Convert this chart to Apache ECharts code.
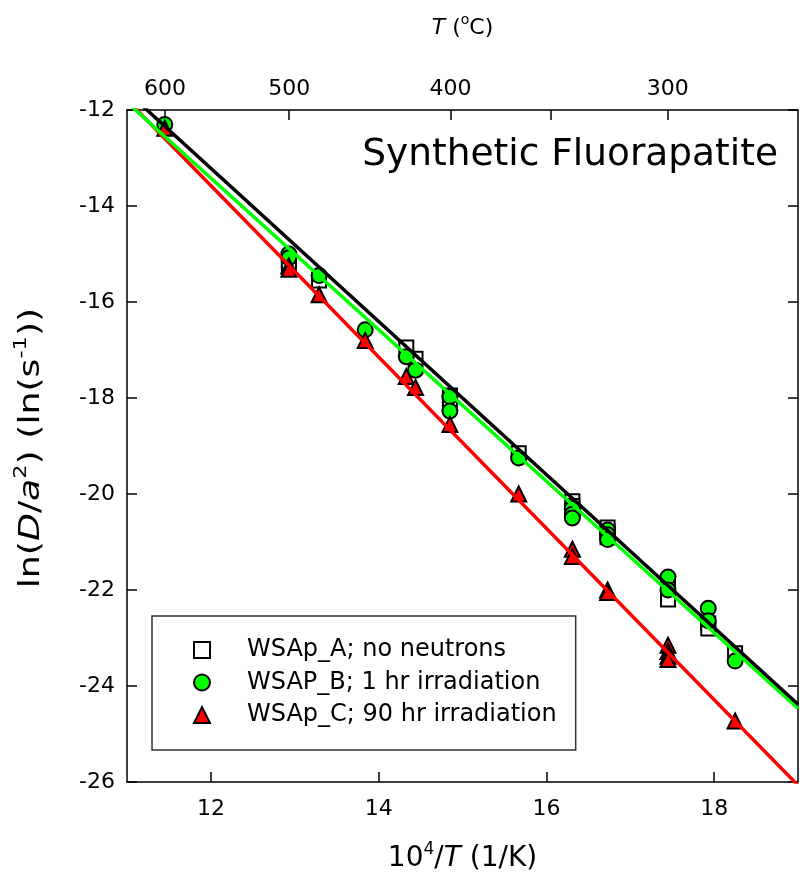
<!DOCTYPE html>
<html>
<head>
<meta charset="utf-8">
<script src="https://cdn.jsdelivr.net/npm/echarts@6/dist/echarts.min.js"></script>
<style>
  html, body { margin: 0; padding: 0; background: #fff; }
  #chart { width: 800px; height: 892px; }
</style>
</head>
<body>
<div id="chart"></div>
<script>
const FONT = 'DejaVu Sans';

// x = 10^4/T (1/K), y = ln(D/a^2)
const xA = [12.93, 12.93, 13.29, 14.33, 14.44, 14.85, 14.85, 15.67, 16.31, 16.31, 16.31, 16.73, 16.73, 16.73, 17.45, 17.45, 17.93, 17.93, 18.25];
const yA = [-15.12, -15.25, -15.55, -16.95, -17.18, -17.95, -18.05, -19.15, -20.15, -20.25, -20.35, -20.7, -20.8, -20.9, -21.95, -22.2, -22.7, -22.8, -23.32];

const xB = [11.45, 12.93, 12.93, 13.29, 13.84, 14.33, 14.44, 14.85, 14.85, 15.67, 16.31, 16.31, 16.31, 16.73, 16.73, 16.73, 17.45, 17.45, 17.93, 17.93, 18.25];
const yB = [-12.3, -15.0, -15.08, -15.45, -16.58, -17.14, -17.42, -17.97, -18.27, -19.25, -20.3, -20.42, -20.5, -20.75, -20.85, -20.95, -21.73, -22.0, -22.38, -22.64, -23.48];

const xC = [11.45, 12.93, 12.93, 13.29, 13.84, 14.33, 14.44, 14.85, 15.67, 16.31, 16.31, 16.73, 16.73, 17.45, 17.45, 17.45, 17.45, 18.25];
const yC = [-12.38, -15.25, -15.32, -15.85, -16.8, -17.55, -17.78, -18.55, -20.0, -21.15, -21.3, -22.0, -22.05, -23.15, -23.28, -23.38, -23.45, -24.73];

// fit lines, end values read at the plot edges
const fitX = [11, 19];
const fitA = [-11.62, -24.38];
const fitB = [-11.84, -24.47];
const fitC = [-11.79, -26.07];

const names = ['WSAp_A; no neutrons', 'WSAP_B; 1 hr irradiation', 'WSAp_C; 90 hr irradiation'];

const bottomTicks = [12, 14, 16, 18];
const topTempTicks = [600, 500, 400, 350, 300];
const topTempLabels = [600, 500, 400, 300];

const invT = (t) => 1e4 / (t + 273.15);
const pairs = (xs, ys) => xs.map((x, i) => [x, ys[i]]);

const axisLine = { show: true, onZero: false, lineStyle: { color: '#000', width: 1.5 } };
const tick = { show: true, inside: true, length: 10, lineStyle: { color: '#000', width: 1.5 } };
const labelFont = { color: '#000', fontFamily: FONT, fontSize: 22 };

const rich = (size) => ({
  n: { fontFamily: FONT, fontSize: size, lineHeight: size + 8, color: '#000' },
  i: { fontFamily: FONT, fontSize: size, lineHeight: size + 8, fontStyle: 'italic', color: '#000' },
  sup: { fontFamily: FONT, fontSize: Math.round(size * 0.62), lineHeight: Math.round(size * 0.62), verticalAlign: 'top', color: '#000' }
});

const chart = echarts.init(document.getElementById('chart'));

chart.setOption({
  animation: false,
  backgroundColor: '#fff',
  grid: { left: 127, right: 2, top: 110, bottom: 110 },
  xAxis: [
    {
      type: 'value', position: 'bottom', min: 11, max: 19,
      axisLine: axisLine,
      axisTick: Object.assign({}, tick, { customValues: bottomTicks }),
      axisLabel: Object.assign({}, labelFont, { customValues: bottomTicks, margin: 16 }),
      splitLine: { show: false },
      name: '{n|10}{sup|4}{n|/}{i|T}{n| (1/K)}',
      nameLocation: 'middle', nameGap: 59,
      nameTextStyle: { rich: rich(28) }
    },
    {
      type: 'value', position: 'top', min: 11, max: 19,
      axisLine: axisLine,
      axisTick: Object.assign({}, tick, { customValues: topTempTicks.map(invT) }),
      axisLabel: Object.assign({}, labelFont, {
        customValues: topTempLabels.map(invT), margin: 10,
        formatter: (v) => String(Math.round(1e4 / v - 273.15))
      }),
      splitLine: { show: false },
      name: '{i|T}{n| (}{sup|o}{n|C)}',
      nameLocation: 'middle', nameGap: 67,
      nameTextStyle: { rich: rich(22) }
    }
  ],
  yAxis: [
    {
      type: 'value', position: 'left', min: -26, max: -12, interval: 2,
      axisLine: axisLine, axisTick: tick,
      axisLabel: Object.assign({}, labelFont, { margin: 12 }),
      splitLine: { show: false }
    },
    {
      type: 'value', position: 'right', min: -26, max: -12, interval: 2,
      axisLine: axisLine, axisTick: tick,
      axisLabel: { show: false },
      splitLine: { show: false }
    }
  ],
  legend: {
    data: names,
    orient: 'vertical',
    left: 152, top: 616,
    padding: [22, 19, 23, 41],
    itemWidth: 16, itemHeight: 16, itemGap: 8.5,
    borderColor: '#333', borderWidth: 1.5,
    textStyle: { fontFamily: FONT, fontSize: 24, color: '#000', padding: [0, 0, 0, 32] },
    selectedMode: false
  },
  graphic: [
    {
      type: 'text', right: 22, top: 136,
      style: { text: 'Synthetic Fluorapatite', font: '37.5px "DejaVu Sans"', fill: '#000' }
    },
    {
      // y-axis title, drawn rotated
      type: 'text', x: 31, y: 448, rotation: Math.PI / 2, scaleX: 1.25,
      style: {
        text: '{n|ln(}{i|D}{n|/}{i|a}{sup|2}{n|) (ln(s}{sup|-1}{n|))}',
        rich: rich(29), align: 'center', verticalAlign: 'middle'
      }
    }
  ],
  series: [
    { type: 'line', data: pairs(fitX, fitC), symbol: 'none', silent: true, lineStyle: { color: '#ff0000', width: 3.5 } },
    { type: 'line', data: pairs(fitX, fitB), symbol: 'none', silent: true, lineStyle: { color: '#00ff00', width: 3.5 } },
    { type: 'line', data: pairs(fitX, fitA), symbol: 'none', silent: true, lineStyle: { color: '#000000', width: 3.5 } },
    {
      name: names[0], type: 'scatter', data: pairs(xA, yA),
      symbol: 'rect', symbolSize: 14,
      itemStyle: { color: '#ffffff', borderColor: '#000', borderWidth: 2, opacity: 1 }
    },
    {
      name: names[1], type: 'scatter', data: pairs(xB, yB),
      symbol: 'circle', symbolSize: 15,
      itemStyle: { color: '#00ff00', borderColor: '#000', borderWidth: 2, opacity: 1 }
    },
    {
      name: names[2], type: 'scatter', data: pairs(xC, yC),
      symbol: 'triangle', symbolSize: 15,
      itemStyle: { color: '#ff0000', borderColor: '#000', borderWidth: 2, opacity: 1 }
    }
  ]
});
</script>
</body>
</html>
